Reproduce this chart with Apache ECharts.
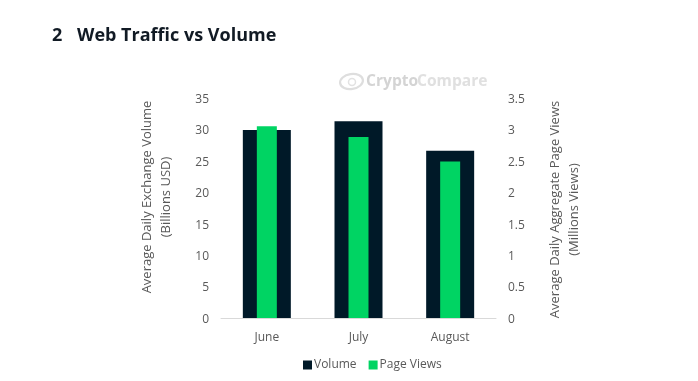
<!DOCTYPE html>
<html>
<head>
<meta charset="utf-8">
<style>html,body{margin:0;padding:0;background:#fff}#c{width:698px;height:381px}</style>
<script src="https://cdn.jsdelivr.net/npm/echarts@6/dist/echarts.min.js"></script>
</head>
<body>
<div id="c"></div>
<script>
const months = ['June', 'July', 'August'];
const volume = [29.9, 31.3, 26.6];
const pageViews = [3.05, 2.88, 2.49];
const titleText = '2';
const titleName = 'Web Traffic vs Volume';

const chart = echarts.init(document.getElementById('c'), null, {renderer: 'canvas'});
const F = '"Open Sans", sans-serif';
const axisText = {color: '#595959', fontFamily: F, fontSize: 12};
chart.setOption({
  animation: false,
  backgroundColor: '#fff',
  grid: {left: 221, right: 202, top: 98, bottom: 63, containLabel: false},
  legend: {
    data: ['Volume', 'Page Views'], left: 298, top: 354, itemWidth: 9, itemHeight: 9, itemGap: 12,
    icon: 'rect', textStyle: {color: '#595959', fontFamily: F, fontSize: 12, padding: [0, 0, 0, -3]}
  },
  xAxis: [
    {type: 'category', data: months, axisTick: {show: false}, axisLine: {lineStyle: {color: '#d9d9d9'}},
     axisLabel: Object.assign({margin: 14}, axisText)},
    {type: 'category', data: months, show: false}
  ],
  yAxis: [
    {type: 'value', min: 0, max: 35, interval: 5, splitLine: {show: false}, axisLine: {show: false}, axisTick: {show: false},
     axisLabel: Object.assign({margin: 12, verticalAlign: 'top', lineHeight: 3}, axisText),
     name: 'Average Daily Exchange Volume\n(Billions USD)', nameLocation: 'middle', nameGap: 45, nameRotate: 90,
     nameTextStyle: Object.assign({lineHeight: 19, padding: [0, 0, 0, 22]}, axisText, {fontSize: 13})},
    {type: 'value', min: 0, max: 3.5, interval: 0.5, splitLine: {show: false}, axisLine: {show: false}, axisTick: {show: false},
     axisLabel: Object.assign({margin: 12, verticalAlign: 'top', lineHeight: 3, formatter: v => String(v)}, axisText),
     name: 'Average Daily Aggregate Page Views\n(Millions Views)', nameLocation: 'middle', nameGap: 50, nameRotate: 90,
     nameTextStyle: Object.assign({lineHeight: 19, padding: [0, 3, 0, 0]}, axisText, {fontSize: 13})}
  ],
  series: [
    {name: 'Volume', type: 'bar', xAxisIndex: 0, yAxisIndex: 0, data: volume, barWidth: 48, itemStyle: {color: '#001928'}, z: 2},
    {name: 'Page Views', type: 'bar', xAxisIndex: 1, yAxisIndex: 1, data: pageViews, barWidth: 20, itemStyle: {color: '#00d463'}, z: 3}
  ],
  graphic: [
    {type: 'text', left: 52, top: 27, style: {text: titleText, font: 'bold 18px ' + F, fill: '#111a24'}},
    {type: 'text', left: 77, top: 27, style: {text: titleName, font: 'bold 18px ' + F, fill: '#111a24'}},
    {type: 'ellipse', shape: {cx: 351.5, cy: 81.5, rx: 11.5, ry: 7.5}, rotation: 0.15, originX: 351.5, originY: 81.5, style: {fill: 'none', stroke: '#dedede', lineWidth: 2.2}},
    {type: 'circle', shape: {cx: 352, cy: 82, r: 3.5}, style: {fill: 'none', stroke: '#e2e2e2', lineWidth: 1.5}},
    {type: 'text', left: 366, top: 74, style: {text: 'Crypto', font: 'bold 15.6px ' + F, fill: '#d4d4d4'}},
    {type: 'text', left: 417, top: 74, style: {text: 'Compare', font: 'bold 15.6px ' + F, fill: '#e0e0e0'}}
  ]
});
</script>
</body>
</html>
